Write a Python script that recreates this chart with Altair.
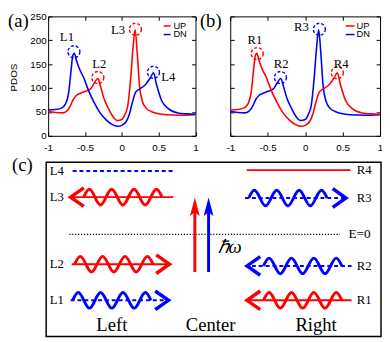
import altair as alt
import numpy as np
import pandas as pd

# ---------------- panel (a)/(b): PDOS curves ----------------
E_UP = [-1.00, -0.90, -0.80, -0.74, -0.70, -0.66, -0.62, -0.56, -0.50, -0.45, -0.42, -0.38, -0.325,
        -0.29, -0.25, -0.18, -0.12, -0.06, 0.00, 0.04, 0.08, 0.12, 0.15, 0.18, 0.21, 0.24, 0.28,
        0.33, 0.40, 0.50, 0.60, 0.80, 1.00]
PDOS_UP = [51, 49, 48, 53, 62, 76, 84, 89, 93, 96, 99, 109, 120,
           104, 82, 57, 40, 32, 34, 44, 62, 120, 180, 222, 172, 105, 72,
           58, 51, 46, 44, 43, 44]
E_DN = [-1.00, -0.90, -0.82, -0.76, -0.72, -0.69, -0.665, -0.645, -0.62, -0.58, -0.51, -0.47, -0.38,
        -0.29, -0.21, -0.12, -0.05, 0.00, 0.06, 0.10, 0.145, 0.19, 0.23, 0.32, 0.39, 0.43, 0.47,
        0.54, 0.63, 0.76, 0.88, 1.00]
PDOS_DN = [54, 55, 58, 68, 92, 135, 168, 173, 160, 142, 119, 102, 71,
           47, 33, 23, 20, 22, 30, 44, 71, 92, 97, 107, 122, 132, 108,
           74, 57, 48, 46, 45]

SPINS = ["UP", "DN"]
X_TICKS = [-1, -0.5, 0, 0.5, 1]
Y_TICKS = [0, 50, 100, 150, 200, 250]

PEAK_A = ["L1", "L2", "L3", "L4"]
PEAK_A_E = [-0.65, -0.325, 0.185, 0.43]
PEAK_A_V = [176, 122, 223, 133]
PEAK_A_SPIN = ["DN", "UP", "UP", "DN"]
LABEL_A_E = [-0.745, -0.305, -0.05, 0.63]
LABEL_A_V = [206, 150, 221, 122]

PEAK_B = ["R1", "R2", "R3", "R4"]
PEAK_B_E = [-0.64, -0.33, 0.19, 0.43]
PEAK_B_V = [172, 122, 223, 132]
PEAK_B_SPIN = ["UP", "DN", "DN", "UP"]
LABEL_B_E = [-0.67, -0.32, -0.05, 0.48]
LABEL_B_V = [201, 151, 227, 151]

LEG_V = [230, 212]

# ---------------- panel (c): schematic, box coordinates 0..100 ----------------
BOX = [0, 100]
LEVEL_NAMES = ["L4", "L3", "L2", "L1", "R4", "R3", "R2", "R1"]
LEVEL_Y = [95.0, 80.0, 41.5, 20.8, 95.5, 79.5, 40.5, 20.8]
LEVEL_SPIN = ["DN", "UP", "UP", "DN", "UP", "DN", "DN", "UP"]
LEVEL_X0 = [7.9, 6.7, 7.6, 7.3, 59.9, 59.4, 59.4, 59.4]
LEVEL_X1 = [38.0, 38.0, 37.4, 37.1, 90.9, 90.1, 91.2, 91.2]
LEVEL_DIR = ["none", "left", "right", "right", "none", "right", "left", "left"]
WAVE_X = [None, 22.9, 20.2, 19.6, None, 72.2, 76.6, 76.6]
LEVEL_LABEL_X = [3.2, 3.2, 3.2, 3.2, 95.0, 95.0, 95.0, 95.0]

CENTER_SPIN = ["UP", "DN"]
CENTER_X = [44.4, 48.5]
CENTER_Y0 = [37.0, 37.0]
CENTER_Y1 = [79.8, 79.8]

FERMI_X = [6.9, 87.7]
FERMI_Y = 58.6
SIDE_TEXT = ["Left", "Center", "Right"]
SIDE_X = [19.6, 49.1, 80.6]
SIDE_Y = 6.7

# ---------------- style ----------------
SANS = "Liberation Sans"
SERIF = "Liberation Serif"
RED, BLUE = "#ff0000", "#0000ff"
W, H = 382, 334


def lin(domain, rng):
    return alt.Scale(domain=domain, range=rng, nice=False, zero=False)


XA = lin([-1, 1], [41, 191.5])
XB = lin([-1, 1], [227, 380])
YP = lin([0, 250], [127, 5])
XC = lin([0, 100], [39, 381])
YC = lin([0, 100], [332, 154])
COL = alt.Scale(domain=SPINS, range=[RED, BLUE])
DASH = alt.Scale(domain=SPINS, range=[[1, 0], [4, 3]])


def axis(orient, offset, values, labels, pad=8, **extra):
    kw = dict(orient=orient, offset=offset, values=values, labels=labels, grid=False,
              domainColor="black", domainWidth=1, tickColor="black", tickWidth=1,
              tickSize={"expr": "-4"}, ticks=True)
    if labels:
        kw.update(labelExpr="'' + datum.value", labelFont=SANS, labelFontSize=10,
                  labelColor="black", labelPadding=pad, labelFlush=False, labelOverlap=False)
    kw.update(extra)
    if "title" not in kw:
        kw["title"] = None
    return alt.Axis(**kw)


def wave_path(n_half=7, amp=0.2):
    h = 2.0 / n_half
    k = 4 / (3 * np.pi)
    parts = ["M -1 0"]
    x0 = -1.0
    for i in range(n_half):
        c = (-1 if i % 2 == 0 else 1) * amp * 4 / 3
        parts.append(f"C {x0 + k * h:.4f} {c:.4f} {x0 + (1 - k) * h:.4f} {c:.4f} {x0 + h:.4f} 0")
        x0 += h
    return " ".join(parts)


WAVE = wave_path()
CHEV_R = "M -1.35 -0.95 L 0 0 L -1.35 0.95"
CHEV_L = "M 1.35 -0.95 L 0 0 L 1.35 0.95"
HEAD_UP = "M 0 0 L 0.5 1.9 L 0 1.5 L -0.5 1.9 Z"

color_enc = alt.Color("spin:N", scale=COL, legend=None)


def pdos_panel(XS, up_spin, dn_spin, peaks, pe, pv, pspin, le, lv, letter, letter_x,
               left_offset, right_offset, y_labels, leg_x0, leg_x1, leg_tx):
    df = pd.concat([
        pd.DataFrame({"E": E_UP, "PDOS": PDOS_UP, "spin": up_spin}),
        pd.DataFrame({"E": E_DN, "PDOS": PDOS_DN, "spin": dn_spin}),
    ])
    yax_extra = {}
    if y_labels:
        yax_extra = dict(title="PDOS", titleFont=SANS, titleFontSize=10, titleFontWeight="normal",
                         titleColor="black", titleX=-30, titleY=67)
    lines = alt.Chart(df).mark_line(interpolate="monotone", strokeWidth=1.6).encode(
        x=alt.X("E:Q", scale=XS, axis=axis("bottom", 127 - H, X_TICKS, True, pad=11)),
        y=alt.Y("PDOS:Q", scale=YP, axis=axis("left", left_offset, Y_TICKS, y_labels, pad=6, **yax_extra)),
        color=color_enc,
    )
    pk = pd.DataFrame({"name": peaks, "E": pe, "V": pv, "spin": pspin, "LE": le, "LV": lv})
    circles = alt.Chart(pk).mark_point(shape="circle", size=150, filled=False, opacity=1,
                                       strokeWidth=1.4, strokeDash=[3, 2]).encode(
        x=alt.X("E:Q", scale=XS, axis=axis("top", -5, X_TICKS, False)),
        y=alt.Y("V:Q", scale=YP, axis=axis("right", right_offset, Y_TICKS, False)),
        color=color_enc,
    )
    labels = alt.Chart(pk).mark_text(font=SERIF, fontSize=13, color="black").encode(
        x=alt.X("LE:Q", scale=XS, axis=None),
        y=alt.Y("LV:Q", scale=YP, axis=None),
        text="name:N",
    )
    leg = pd.DataFrame({"spin": SPINS, "V": LEG_V, "x0": leg_x0, "x1": leg_x1, "tx": leg_tx})
    leg_lines = alt.Chart(leg).mark_rule(strokeWidth=1.5).encode(
        x=alt.X("x0:Q", scale=XS, axis=None), x2="x1:Q",
        y=alt.Y("V:Q", scale=YP, axis=None), color=color_enc,
    )
    leg_text = alt.Chart(leg).mark_text(font=SANS, fontSize=9.5, align="left", color="black").encode(
        x=alt.X("tx:Q", scale=XS, axis=None), y=alt.Y("V:Q", scale=YP, axis=None), text="spin:N",
    )
    let = pd.DataFrame({"t": [letter], "x": [letter_x], "y": [241]})
    letter_mark = alt.Chart(let).mark_text(font=SERIF, fontSize=19, align="left", color="black").encode(
        x=alt.X("x:Q", scale=XS, axis=None), y=alt.Y("y:Q", scale=YP, axis=None), text="t:N",
    )
    return [lines, circles, labels, leg_lines, leg_text, letter_mark]


layers = []
layers += pdos_panel(XA, "UP", "DN", PEAK_A, PEAK_A_E, PEAK_A_V, PEAK_A_SPIN, LABEL_A_E, LABEL_A_V,
                     "(a)", -1.545, -41, -(W - 191.5), True, 0.568, 0.661, 0.70)
layers += pdos_panel(XB, "DN", "UP", PEAK_B, PEAK_B_E, PEAK_B_V, PEAK_B_SPIN, LABEL_B_E, LABEL_B_V,
                     "(b)", -1.405, -227, -(W - 380), False, 0.542, 0.66, 0.686)

# ---- panel (c) ----
def cx(f):
    return alt.X(f, scale=XC, axis=None)


def cy(f):
    return alt.Y(f, scale=YC, axis=None)


box = alt.Chart(pd.DataFrame({"x": [BOX[0]], "x2": [BOX[1]], "y": [BOX[0]], "y2": [BOX[1]]})).mark_rect(
    fillOpacity=0, stroke="black", strokeWidth=1.5).encode(x=cx("x:Q"), x2="x2:Q", y=cy("y:Q"), y2="y2:Q")

fermi = alt.Chart(pd.DataFrame({"x": [FERMI_X[0]], "x2": [FERMI_X[1]], "y": [FERMI_Y]})).mark_rule(
    color="black", strokeWidth=1.2, strokeDash=[1.2, 1.8]).encode(x=cx("x:Q"), x2="x2:Q", y=cy("y:Q"))
fermi_txt = alt.Chart(pd.DataFrame({"t": ["E=0"], "x": [93.6], "y": [FERMI_Y]})).mark_text(
    font=SERIF, fontSize=13.5, color="black").encode(x=cx("x:Q"), y=cy("y:Q"), text="t:N")

lev = pd.DataFrame({"name": LEVEL_NAMES, "y": LEVEL_Y, "spin": LEVEL_SPIN, "x0": LEVEL_X0,
                    "x1": LEVEL_X1, "dir": LEVEL_DIR, "wx": WAVE_X, "lx": LEVEL_LABEL_X})
dash_enc = alt.StrokeDash("spin:N", scale=DASH, legend=None)
shafts = alt.Chart(lev).mark_rule(strokeWidth=2).encode(
    x=cx("x0:Q"), x2="x1:Q", y=cy("y:Q"), color=color_enc, strokeDash=dash_enc)
waves = alt.Chart(lev).transform_filter("isValid(datum.wx)").mark_point(
    shape=WAVE, size=6400, filled=False, opacity=1, strokeWidth=3).encode(
    x=cx("wx:Q"), y=cy("y:Q"), color=color_enc)
chev_r = alt.Chart(lev).transform_filter("datum.dir == 'right'").mark_point(
    shape=CHEV_R, size=400, filled=False, opacity=1, strokeWidth=3.5, xOffset=-2).encode(
    x=cx("x1:Q"), y=cy("y:Q"), color=color_enc)
chev_l = alt.Chart(lev).transform_filter("datum.dir == 'left'").mark_point(
    shape=CHEV_L, size=400, filled=False, opacity=1, strokeWidth=3.5, xOffset=2).encode(
    x=cx("x0:Q"), y=cy("y:Q"), color=color_enc)
lev_txt = alt.Chart(lev).mark_text(font=SERIF, fontSize=13, color="black").encode(
    x=cx("lx:Q"), y=cy("y:Q"), text="name:N")

ctr = pd.DataFrame({"spin": CENTER_SPIN, "x": CENTER_X, "y0": CENTER_Y0, "y1": CENTER_Y1})
ctr_shaft = alt.Chart(ctr).transform_calculate(ytop="datum.y1 - 7").mark_rule(strokeWidth=3).encode(
    x=cx("x:Q"), y=cy("y0:Q"), y2="ytop:Q", color=color_enc)
ctr_head = alt.Chart(ctr).mark_point(shape=HEAD_UP, size=400, filled=True, opacity=1).encode(
    x=cx("x:Q"), y=cy("y1:Q"), color=color_enc)
hw = alt.Chart(pd.DataFrame({"t": ["\u210f\u03c9"], "x": [54.8], "y": [51.4]})).mark_text(
    font=SERIF, fontSize=19, fontStyle="italic", color="black").encode(x=cx("x:Q"), y=cy("y:Q"), text="t:N")
side = alt.Chart(pd.DataFrame({"t": SIDE_TEXT, "x": SIDE_X, "y": [SIDE_Y] * 3})).mark_text(
    font=SERIF, fontSize=19, color="black").encode(x=cx("x:Q"), y=cy("y:Q"), text="t:N")
letter_c = alt.Chart(pd.DataFrame({"t": ["(c)"], "x": [-10.2], "y": [98.3]})).mark_text(
    font=SERIF, fontSize=19, align="left", color="black").encode(x=cx("x:Q"), y=cy("y:Q"), text="t:N")

layers += [box, fermi, fermi_txt, shafts, waves, chev_r, chev_l, lev_txt, ctr_shaft, ctr_head, hw, side, letter_c]

chart = alt.layer(*layers).resolve_scale(
    x="independent", y="independent"
).properties(
    width=W, height=H, autosize=alt.AutoSizeParams(type="none"), padding=0
).configure_view(stroke=None)

chart.save("out.html", embed_options={"renderer": "svg", "actions": False})
